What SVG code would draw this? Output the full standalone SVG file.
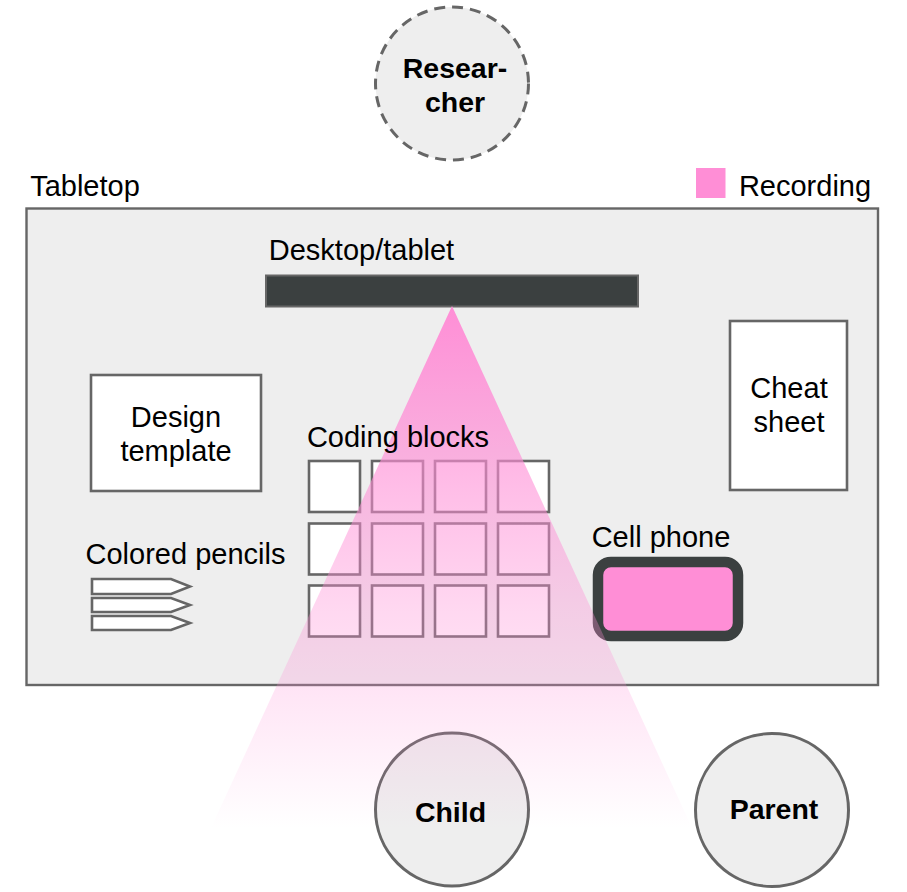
<svg xmlns="http://www.w3.org/2000/svg" width="907" height="892" viewBox="0 0 907 892">
<style>
text{font-family:"Liberation Sans",Arial,sans-serif;font-size:29px;fill:#000;text-anchor:middle}
.b{font-weight:bold;font-size:28.5px}
.s{stroke:#666;stroke-width:2.600;fill:#fff}
.c{stroke:#666;stroke-width:3;fill:#eee}
</style>
<defs>
<linearGradient id="beamGrad" gradientUnits="userSpaceOnUse" x1="0" y1="306" x2="0" y2="828">
<stop offset="0" stop-color="#ff8ed6" stop-opacity="1"/>
<stop offset="0.18" stop-color="#ff8ed6" stop-opacity="0.78"/>
<stop offset="0.35" stop-color="#ff8ed6" stop-opacity="0.58"/>
<stop offset="0.58" stop-color="#ff8ed6" stop-opacity="0.35"/>
<stop offset="0.74" stop-color="#ff8ed6" stop-opacity="0.23"/>
<stop offset="1" stop-color="#ff8ed6" stop-opacity="0"/>
</linearGradient>
</defs>
<rect width="907" height="892" fill="#fff"/>
<g id="researcher"><circle cx="452" cy="83.500" r="76.500" fill="#eee" stroke="#666" stroke-width="3" stroke-dasharray="11 7"/>
<text class="b" x="455" y="78">Resear-</text><text class="b" x="455" y="112">cher</text></g>
<g id="tabletop"><rect x="26.500" y="208.500" width="851.500" height="476.500" fill="#eee" stroke="#666" stroke-width="2.400"/>
<text x="85" y="195.500">Tabletop</text></g>
<g id="legend"><rect x="696" y="168" width="29.500" height="30" fill="#ff8ed6"/><text x="805" y="195.500">Recording</text></g>
<g id="desktop"><rect x="266" y="275.500" width="372" height="31" fill="#3b4040" stroke="#666" stroke-width="2"/>
<text x="361.500" y="259.500">Desktop/tablet</text></g>
<g id="design-template"><rect class="s" x="91" y="375" width="170" height="116"/><text x="176" y="426.500">Design</text><text x="176" y="460.500">template</text></g>
<g id="cheat-sheet"><rect class="s" x="730" y="321" width="117" height="169"/><text x="789" y="397.500">Cheat</text><text x="789" y="431.500">sheet</text></g>
<g id="colored-pencils"><text x="185.500" y="563.500">Colored pencils</text>
<path class="s" d="M92 579H171L190 586.500L171 594H92Z"/>
<path class="s" d="M92 598H171L190 605L171 612H92Z"/>
<path class="s" d="M92 616H171L190 623L171 630H92Z"/></g>
<g id="coding-blocks">
<rect class="s" x="309" y="461" width="51" height="51"/><rect class="s" x="372" y="461" width="51" height="51"/><rect class="s" x="435" y="461" width="51" height="51"/><rect class="s" x="498" y="461" width="51" height="51"/>
<rect class="s" x="309" y="523.500" width="51" height="51"/><rect class="s" x="372" y="523.500" width="51" height="51"/><rect class="s" x="435" y="523.500" width="51" height="51"/><rect class="s" x="498" y="523.500" width="51" height="51"/>
<rect class="s" x="309" y="585.500" width="51" height="51"/><rect class="s" x="372" y="585.500" width="51" height="51"/><rect class="s" x="435" y="585.500" width="51" height="51"/><rect class="s" x="498" y="585.500" width="51" height="51"/>
</g>
<g id="cell-phone"><rect x="598" y="562" width="140" height="74" rx="13" fill="#ff8ed6" stroke="#3b4040" stroke-width="10.500"/>
<text x="661" y="546.500">Cell phone</text></g>
<g id="child"><circle class="c" cx="452" cy="809.500" r="76.500"/></g>
<g id="parent"><circle class="c" cx="772" cy="810" r="76.500"/><text class="b" x="774" y="819">Parent</text></g>
<g id="connectors"><path d="M452 306L692 828H211Z" fill="url(#beamGrad)"/></g>
<g id="coding-blocks-label"><text x="398" y="446.500">Coding blocks</text></g>
<g id="child-label"><text class="b" x="450.500" y="822">Child</text></g>
</svg>
